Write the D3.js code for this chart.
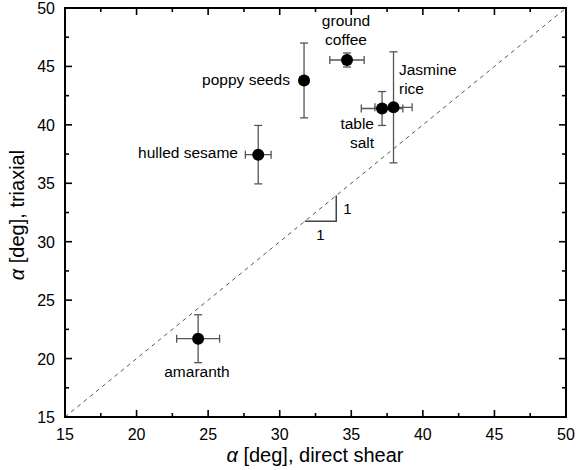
<!DOCTYPE html>
<html>
<head>
<meta charset="utf-8">
<script src="https://cdn.jsdelivr.net/npm/d3@7"></script>
<style>
  body { margin: 0; background: #fff; }
  text { font-family: "Liberation Sans", Arial, sans-serif; fill: #000; }
</style>
</head>
<body>
<script>
// grains: friction angle from direct shear (x) vs triaxial (y)
var names   = ["amaranth", "hulled sesame", "poppy seeds", "ground coffee", "table salt", "Jasmine rice"];
var shear   = [24.3, 28.5, 31.7, 34.7, 37.15, 37.95];
var shearErr= [1.5, 0.9, 0.3, 1.2, 1.45, 1.3];
var triax   = [21.7, 37.45, 43.8, 45.55, 41.4, 41.5];
var triaxErr= [2.05, 2.5, 3.2, 0.6, 1.45, 4.75];
var majorTicks = [15, 20, 25, 30, 35, 40, 45, 50];
var minorTicks = [17.5, 22.5, 27.5, 32.5, 37.5, 42.5, 47.5];

var width = 581, height = 470;
var margin = {top: 8, right: 15, bottom: 53, left: 65};

var svg = d3.select("body").append("svg")
    .attr("width", width)
    .attr("height", height);

var x = d3.scaleLinear().domain([15, 50]).range([margin.left, width - margin.right]);
var y = d3.scaleLinear().domain([15, 50]).range([height - margin.bottom, margin.top]);

// 1:1 dashed line
svg.append("line")
    .attr("x1", x(15)).attr("y1", y(15))
    .attr("x2", x(50)).attr("y2", y(50))
    .attr("stroke", "#555")
    .attr("stroke-width", 1)
    .attr("stroke-dasharray", "4,4");

// slope triangle
var tri = [[31.75, 31.75], [33.95, 31.75], [33.95, 33.95]];
svg.append("path")
    .attr("d", d3.line().x(function(d) { return x(d[0]); }).y(function(d) { return y(d[1]); })(tri))
    .attr("fill", "none")
    .attr("stroke", "#444")
    .attr("stroke-width", 1.5);
svg.append("text").attr("x", x(33.95) + 7).attr("y", y(32.85) + 6)
    .attr("font-size", 15).text("1");
svg.append("text").attr("x", x(32.85)).attr("y", y(31.75) + 19)
    .attr("text-anchor", "middle").attr("font-size", 15).text("1");

// ticks on all sides, pointing inward
function ticks(vals, len) {
  vals.forEach(function(v) {
    svg.append("line").attr("x1", x(v)).attr("x2", x(v))
        .attr("y1", y(15)).attr("y2", y(15) - len)
        .attr("stroke", "#000").attr("stroke-width", 1.6);
    svg.append("line").attr("x1", x(v)).attr("x2", x(v))
        .attr("y1", y(50)).attr("y2", y(50) + len)
        .attr("stroke", "#000").attr("stroke-width", 1.6);
    svg.append("line").attr("y1", y(v)).attr("y2", y(v))
        .attr("x1", x(15)).attr("x2", x(15) + len)
        .attr("stroke", "#000").attr("stroke-width", 1.6);
    svg.append("line").attr("y1", y(v)).attr("y2", y(v))
        .attr("x1", x(50)).attr("x2", x(50) - len)
        .attr("stroke", "#000").attr("stroke-width", 1.6);
  });
}
ticks(majorTicks, 7);
ticks(minorTicks, 4);

svg.append("rect")
    .attr("x", x(15)).attr("y", y(50))
    .attr("width", x(50) - x(15)).attr("height", y(15) - y(50))
    .attr("fill", "none").attr("stroke", "#000").attr("stroke-width", 2);

// tick labels
svg.selectAll(".xl").data(majorTicks).enter().append("text")
    .attr("x", function(d) { return x(d); })
    .attr("y", y(15) + 23)
    .attr("text-anchor", "middle")
    .attr("font-size", 16)
    .text(function(d) { return d; });
svg.selectAll(".yl").data(majorTicks).enter().append("text")
    .attr("x", x(15) - 10)
    .attr("y", function(d) { return y(d) + 6; })
    .attr("text-anchor", "end")
    .attr("font-size", 16)
    .text(function(d) { return d; });

// axis titles
var xt = svg.append("text").attr("x", 315).attr("y", 462)
    .attr("text-anchor", "middle").attr("font-size", 20);
xt.append("tspan").attr("font-style", "italic").text("α");
xt.append("tspan").text(" [deg], direct shear");

var yt = svg.append("text").attr("transform", "translate(24,215) rotate(-90)")
    .attr("text-anchor", "middle").attr("font-size", 20);
yt.append("tspan").attr("font-style", "italic").text("α");
yt.append("tspan").text(" [deg], triaxial");

// error bars
var pts = names.map(function(n, i) {
  return {name: n, x: shear[i], xe: shearErr[i], y: triax[i], ye: triaxErr[i]};
});
var cap = 4;
var eb = svg.append("g").attr("stroke", "#555").attr("stroke-width", 1.3);
pts.forEach(function(p) {
  eb.append("line").attr("x1", x(p.x)).attr("x2", x(p.x)).attr("y1", y(p.y - p.ye)).attr("y2", y(p.y + p.ye));
  eb.append("line").attr("x1", x(p.x) - cap).attr("x2", x(p.x) + cap).attr("y1", y(p.y - p.ye)).attr("y2", y(p.y - p.ye));
  eb.append("line").attr("x1", x(p.x) - cap).attr("x2", x(p.x) + cap).attr("y1", y(p.y + p.ye)).attr("y2", y(p.y + p.ye));
  eb.append("line").attr("y1", y(p.y)).attr("y2", y(p.y)).attr("x1", x(p.x - p.xe)).attr("x2", x(p.x + p.xe));
  eb.append("line").attr("y1", y(p.y) - cap).attr("y2", y(p.y) + cap).attr("x1", x(p.x - p.xe)).attr("x2", x(p.x - p.xe));
  eb.append("line").attr("y1", y(p.y) - cap).attr("y2", y(p.y) + cap).attr("x1", x(p.x + p.xe)).attr("x2", x(p.x + p.xe));
});

svg.selectAll("circle").data(pts).enter().append("circle")
    .attr("cx", function(d) { return x(d.x); })
    .attr("cy", function(d) { return y(d.y); })
    .attr("r", 6)
    .attr("fill", "#000");

// point labels
var labels = [
  {lines: ["amaranth"], x: 197, y: 377, anchor: "middle"},
  {lines: ["hulled sesame"], x: 238, y: 158, anchor: "end"},
  {lines: ["poppy seeds"], x: 290, y: 85, anchor: "end"},
  {lines: ["ground", "coffee"], x: 346, y: 26, anchor: "middle"},
  {lines: ["table", "salt"], x: 374, y: 129, anchor: "end"},
  {lines: ["Jasmine", "rice"], x: 399, y: 75, anchor: "start"}
];
labels.forEach(function(l) {
  var t = svg.append("text").attr("font-size", 15.5).attr("text-anchor", l.anchor);
  l.lines.forEach(function(s, i) {
    t.append("tspan").attr("x", l.x).attr("y", l.y + i * 19).text(s);
  });
});
</script>
</body>
</html>
